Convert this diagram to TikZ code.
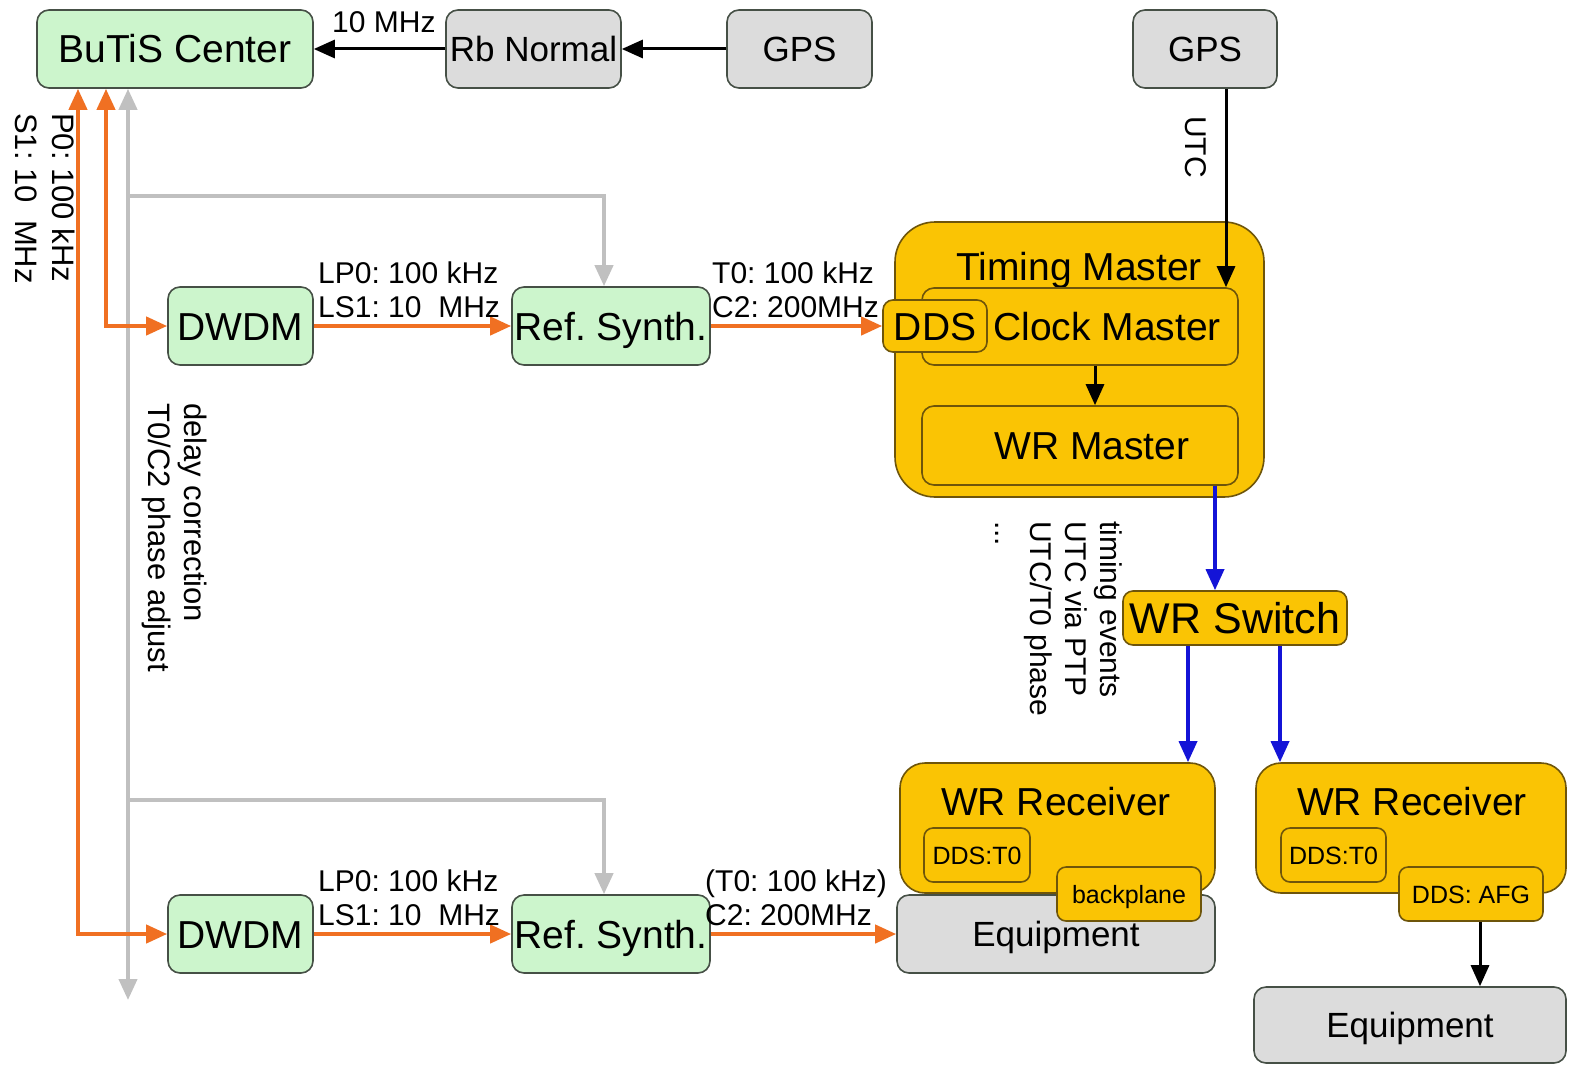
\documentclass[tikz,border=0pt]{standalone}
\usepackage{fontspec}
\setmainfont{Liberation Sans}
\usetikzlibrary{arrows.meta}
\frenchspacing

\definecolor{boxgreen}{RGB}{204,245,204}
\definecolor{boxgrey}{RGB}{220,220,220}
\definecolor{gold}{RGB}{250,196,4}
\definecolor{goldedge}{RGB}{110,85,10}
\definecolor{edgegrey}{RGB}{70,80,70}
\definecolor{sigorange}{RGB}{240,112,34}
\definecolor{siggrey}{RGB}{192,192,192}
\definecolor{sigblue}{RGB}{20,20,215}

\newcommand\fbig{\fontsize{39}{44}\selectfont}
\newcommand\fmid{\fontsize{35}{40}\selectfont}
\newcommand\flbl{\fontsize{30}{34}\selectfont}
\newcommand\fsmall{\fontsize{25}{28}\selectfont}

\tikzset{
  sz/.style 2 args={minimum width=#1pt, minimum height=#2pt},
  box/.style={draw=edgegrey, line width=1.6pt, rounded corners=12pt, inner sep=0pt, text depth=0pt},
  gbox/.style={box, fill=boxgreen, font=\fbig, text height=28pt},
  greybox/.style={box, fill=boxgrey, font=\fmid, text height=25pt},
  goldbox/.style={box, draw=goldedge, fill=gold, font=\fbig, text height=28pt},
  subbox/.style={box, draw=goldedge, fill=gold, rounded corners=9pt, font=\fsmall, text height=18pt},
  txt/.style={inner sep=0pt, font=\fbig, text height=28pt, text depth=0pt},
  lbl/.style={inner sep=0pt, font=\flbl, align=left},
  vlbl/.style={lbl, rotate=-90, anchor=north west},
  tip/.style={>={Triangle[length=21pt,width=18pt]}},
  blk/.style={tip, draw=black, line width=3pt},
  orl/.style={tip, draw=sigorange, line width=4pt},
  gry/.style={tip, draw=siggrey, line width=4pt},
  blu/.style={tip, draw=sigblue, line width=3.5pt},
}

\begin{document}
\begin{tikzpicture}[x=1pt,y=-1pt]
\useasboundingbox (0,0) rectangle (1570,1065);
\fill[white] (0,0) rectangle (1570,1065);

% --- reference chain -----------------------------------------------------
\node[gbox, sz={276}{78}] (butis) at (175,49) {BuTiS Center};
\node[greybox, sz={175}{78}] (rb) at (533.5,49) {Rb Normal};
\node[greybox, sz={145}{78}] (gps1) at (799.5,49) {GPS};
\node[greybox, sz={144}{78}] (gps2) at (1205,49) {GPS};

\node[gbox, sz={145}{78}] (dwdm1) at (240.5,326) {DWDM};
\node[gbox, sz={198}{78}] (ref1) at (611,326) {Ref. Synth.};
\node[gbox, sz={145}{78}] (dwdm2) at (240.5,934) {DWDM};
\node[gbox, sz={198}{78}] (ref2) at (611,934) {Ref. Synth.};

% --- timing master -------------------------------------------------------
\node[goldbox, rounded corners=40pt, sz={369}{275}] (tm) at (1079.5,359.5) {};
\node[txt] (tmtxt) at (1079,266) {Timing Master};
\node[goldbox, sz={316}{77}] (cm) at (1080,326.5) {};
\node[txt] (cmtxt) at (1107,326) {Clock Master};
\node[goldbox, rounded corners=10pt, sz={104}{52}] (dds) at (935,326) {DDS};
\node[goldbox, sz={316}{79}] (wrm) at (1080,445.5) {};
\node[txt] (wrmtxt) at (1092,445) {WR Master};

\node[goldbox, rounded corners=10pt, font=\fontsize{43}{48}\selectfont, text height=31pt, sz={224}{54}] (wrs) at (1235,618) {WR Switch};

% --- receivers and equipment ---------------------------------------------
\node[greybox, sz={318}{78}] (eq1) at (1056,934) {Equipment};
\node[goldbox, rounded corners=25pt, sz={315}{130}] (rx1) at (1057.5,828) {};
\node[txt] (rx1txt) at (1056,801) {WR Receiver};
\node[subbox, sz={106}{54}] (dds1) at (977,855) {DDS:T0};
\node[subbox, sz={144}{54}] (bp) at (1129,894) {backplane};

\node[goldbox, rounded corners=25pt, sz={310}{130}] (rx2) at (1411,828) {};
\node[txt] (rx2txt) at (1412,801) {WR Receiver};
\node[subbox, sz={105}{54}] (dds2) at (1333.5,855) {DDS:T0};
\node[subbox, sz={144}{54}] (afg) at (1471,894) {DDS: AFG};
\node[greybox, sz={312}{76}] (eq2) at (1410,1025) {Equipment};

% --- helper coordinates for connector columns ----------------------------
\coordinate (o2) at (78,0);
\coordinate (o1) at (106,0);
\coordinate (g0) at (128,0);
\coordinate (gend) at (128,1000);
\coordinate (gb1) at (128,196);
\coordinate (gb2) at (128,800);
\coordinate (gx) at (604,0);
\coordinate (u) at (1226,0);
\coordinate (cx) at (1095,0);
\coordinate (bx) at (1215,0);
\coordinate (b1) at (1188,0);
\coordinate (b2) at (1280,0);
\coordinate (a1) at (1480,0);

% --- phase correction bus (grey) -----------------------------------------
\draw[gry,<->] (butis.south -| g0) -- (gend);
\draw[gry,->] (gb1) -| (ref1.north -| gx);
\draw[gry,->] (gb2) -| (ref2.north -| gx);

% --- optical distribution (orange) ---------------------------------------
\draw[orl,<->] (butis.south -| o1) |- (dwdm1.west);
\draw[orl,<->] (butis.south -| o2) |- (dwdm2.west);
\draw[orl,->] (dwdm1) -- (ref1);
\draw[orl,->] (ref1) -- (dds);
\draw[orl,->] (dwdm2) -- (ref2);
\draw[orl,->] (ref2) -- (eq1);

% --- black links -----------------------------------------------------------
\draw[blk,->] (gps1) -- (rb);
\draw[blk,->] (rb) -- (butis);
\draw[blk,->] (gps2.south -| u) -- (cm.north -| u);
\draw[blk,->] (cm.south -| cx) -- (wrm.north -| cx);
\draw[blk,->] (afg.south -| a1) -- (eq2.north -| a1);

% --- White Rabbit network (blue) -----------------------------------------
\draw[blu,->] (wrm.south -| bx) -- (wrs.north -| bx);
\draw[blu,->] (wrs.south -| b1) -- (rx1.north -| b1);
\draw[blu,->] (wrs.south -| b2) -- (rx2.north -| b2);

% --- labels ----------------------------------------------------------------
\node[lbl, anchor=west] (l10) at (332,22) {10 MHz};
\node[lbl, anchor=south west] (lopt1) at (318,318) {LP0: 100 kHz\\LS1: 10~~MHz};
\node[lbl, anchor=south west] (lref1) at (712,318) {T0: 100 kHz\\C2: 200MHz};
\node[lbl, anchor=south west] (lopt2) at (318,926) {LP0: 100 kHz\\LS1: 10~~MHz};
\node[lbl, anchor=south west] (lref2) at (705,926) {(T0: 100 kHz)\\C2: 200MHz};

\node[vlbl, font=\fontsize{31}{37}\selectfont] (lps) at (75,113) {P0: 100 kHz\\S1: 10~~MHz};
\node[vlbl, font=\fontsize{31}{36}\selectfont] (ldelay) at (207,403) {delay correction\\T0/C2 phase adjust};
\node[vlbl] (lutc) at (1207,116) {UTC};
\node[vlbl, font=\fontsize{30}{35}\selectfont] (lwr) at (1122,521) {timing events\\UTC via PTP\\UTC/T0 phase\\...};
\end{tikzpicture}
\end{document}
